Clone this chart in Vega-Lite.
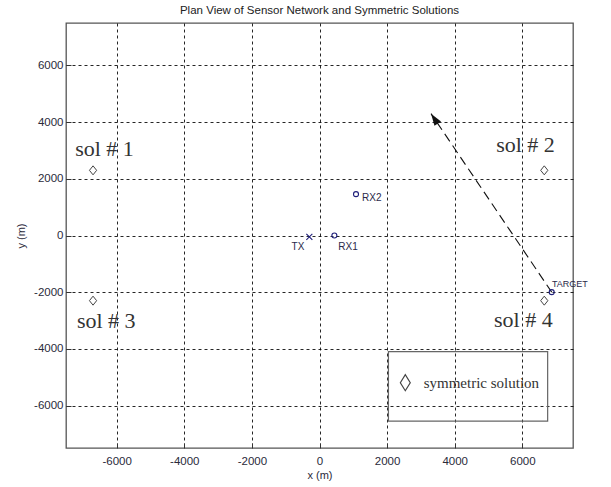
{
  "$schema": "https://vega.github.io/schema/vega-lite/v6.json",
  "width": 507,
  "height": 425,
  "autosize": "none",
  "padding": {"left": 66, "top": 23, "right": 38, "bottom": 39},
  "background": "white",
  "title": {"text": "Plan View of Sensor Network and Symmetric Solutions", "font": "Liberation Sans", "fontSize": 11.5, "fontWeight": "normal", "color": "#222", "offset": 7, "anchor": "middle"},
  "config": {
    "view": {"stroke": "#555", "strokeWidth": 1.3},
    "axis": {"domain": false, "grid": true, "gridColor": "#000", "gridDash": [3, 3], "gridOpacity": 0.85, "gridWidth": 1, "ticks": true, "tickSize": -5, "tickColor": "#333", "labelFont": "Liberation Sans", "labelFontSize": 11.5, "labelColor": "#2a2a3a", "titleFont": "Liberation Sans", "titleFontSize": 11, "titleFontWeight": "normal", "titleColor": "#2a2a3a"}
  },
  "datasets": {
    "box": [{"x": 2040, "x2": 6750, "y": -4100, "y2": -6550}],
    "track": [{"x": 6870, "y": -2000, "o": 0}, {"x": 3300, "y": 4300, "o": 1}],
    "tip": [{"x": 3300, "y": 4300}],
    "sols": [
      {"x": -6700, "y": 2300, "series": "symmetric solution"},
      {"x": 6650, "y": 2300, "series": "symmetric solution"},
      {"x": -6700, "y": -2300, "series": "symmetric solution"},
      {"x": 6650, "y": -2300, "series": "symmetric solution"}
    ],
    "tx": [{"x": -300, "y": -50}],
    "rx": [{"x": 440, "y": 0}, {"x": 1080, "y": 1460}, {"x": 6870, "y": -2000}],
    "smalllabels": [
      {"x": -636, "y": -395, "label": "TX"},
      {"x": 843, "y": -395, "label": "RX1"},
      {"x": 1545, "y": 1324, "label": "RX2"}
    ],
    "targetlabel": [{"x": 7410, "y": -1712, "label": "TARGET"}],
    "sollabels": [
      {"x": -6360, "y": 2806, "label": "sol # 1"},
      {"x": 6095, "y": 2937, "label": "sol # 2"},
      {"x": -6310, "y": -3276, "label": "sol # 3"},
      {"x": 6030, "y": -3219, "label": "sol # 4"}
    ]
  },
  "encoding": {
    "x": {"field": "x", "type": "quantitative", "scale": {"domain": [-7500, 7500], "nice": false, "zero": false}, "axis": {"title": "x (m)", "values": [-6000, -4000, -2000, 0, 2000, 4000, 6000], "labelExpr": "'' + datum.value", "labelPadding": 12, "titlePadding": 3}},
    "y": {"field": "y", "type": "quantitative", "scale": {"domain": [-7500, 7500], "nice": false, "zero": false}, "axis": {"title": "y (m)", "values": [-6000, -4000, -2000, 0, 2000, 4000, 6000], "labelExpr": "'' + datum.value", "labelPadding": 8, "titlePadding": 7}}
  },
  "layer": [
    {
      "data": {"name": "box"},
      "mark": {"type": "rect", "filled": false, "stroke": "#666", "strokeWidth": 1.2, "fill": "transparent"},
      "encoding": {"x2": {"field": "x2"}, "y2": {"field": "y2"}}
    },
    {
      "data": {"name": "track"},
      "mark": {"type": "line", "color": "#111", "strokeWidth": 1.1, "strokeDash": [9, 5]},
      "encoding": {"order": {"field": "o", "type": "quantitative"}}
    },
    {
      "data": {"name": "tip"},
      "mark": {"type": "point", "shape": "M0,0L0.33,1L-0.33,1Z", "filled": true, "color": "#111", "size": 576, "angle": 326, "opacity": 1}
    },
    {
      "data": {"name": "sols"},
      "mark": {"type": "point", "shape": "M-0.8,0L0,-1L0.8,0L0,1Z", "filled": false, "size": 81, "strokeWidth": 1, "opacity": 1},
      "encoding": {
        "color": {"field": "series", "type": "nominal", "scale": {"range": ["#444"]},
          "legend": {"title": null, "orient": "none", "legendX": 330.3, "legendY": 350.7, "padding": 0, "symbolType": "M-0.62,0L0,-1L0.62,0L0,1Z", "symbolSize": 256, "symbolStrokeWidth": 1.2, "symbolStrokeColor": "#777", "symbolFillColor": "transparent", "labelFont": "Liberation Serif", "labelFontSize": 15, "labelColor": "#333", "labelOffset": 9.4, "labelLimit": 300}}
      }
    },
    {
      "data": {"name": "tx"},
      "mark": {"type": "point", "shape": "M-1,-1L1,1M-1,1L1,-1", "filled": false, "size": 36, "color": "#1f1f7a", "strokeWidth": 1.1, "opacity": 1}
    },
    {
      "data": {"name": "rx"},
      "mark": {"type": "point", "shape": "circle", "filled": false, "size": 25, "color": "#1f1f7a", "strokeWidth": 1.1, "opacity": 1}
    },
    {
      "data": {"name": "smalllabels"},
      "mark": {"type": "text", "font": "Liberation Sans", "fontSize": 10, "color": "#2a2a4a", "align": "center", "baseline": "middle"},
      "encoding": {"text": {"field": "label"}}
    },
    {
      "data": {"name": "targetlabel"},
      "mark": {"type": "text", "font": "Liberation Sans", "fontSize": 9, "color": "#2a2a4a", "align": "center", "baseline": "middle"},
      "encoding": {"text": {"field": "label"}}
    },
    {
      "data": {"name": "sollabels"},
      "mark": {"type": "text", "font": "Liberation Serif", "fontSize": 22, "color": "#333", "align": "center", "baseline": "alphabetic"},
      "encoding": {"text": {"field": "label"}}
    }
  ]
}
